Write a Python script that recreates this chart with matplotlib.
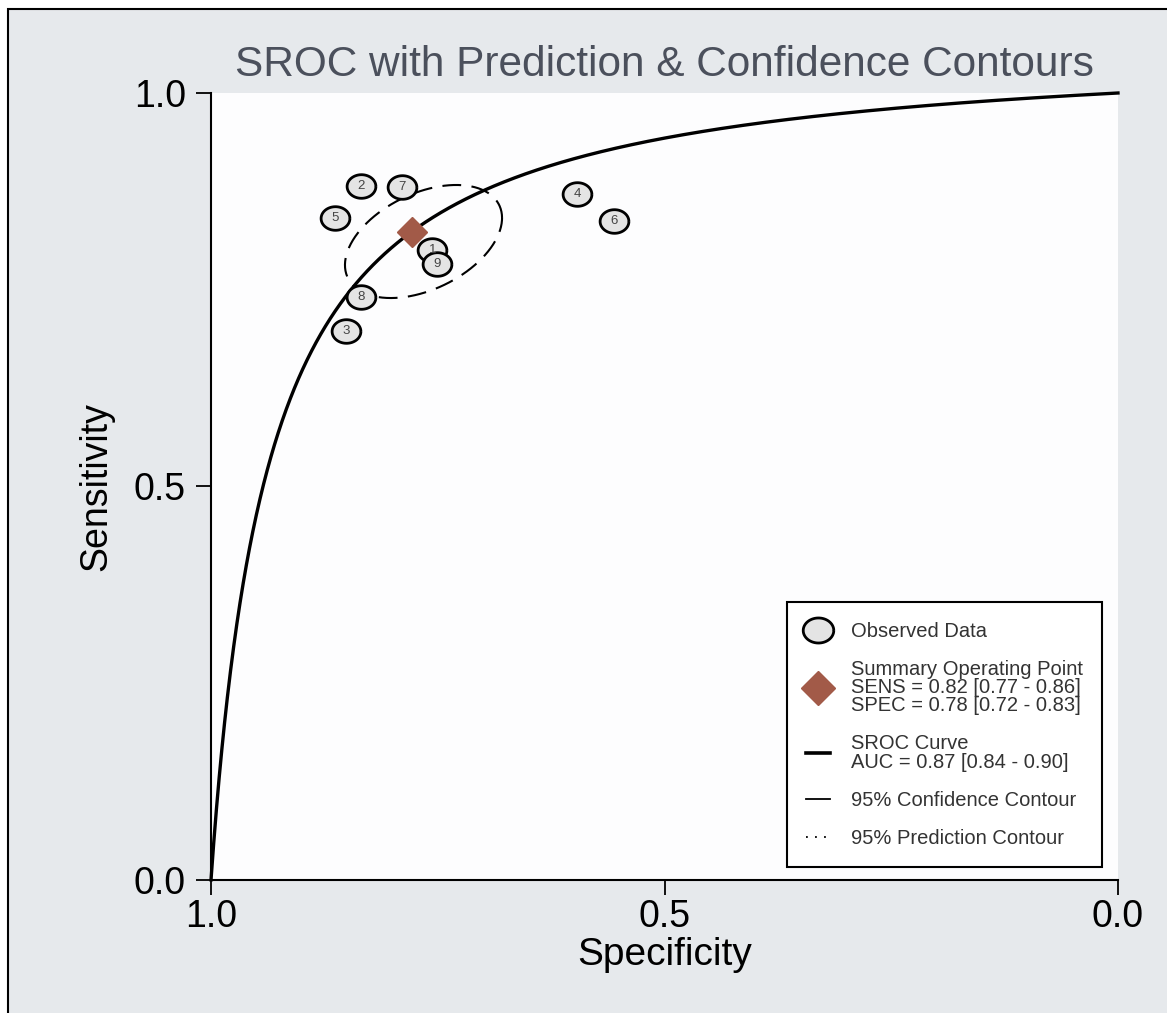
import numpy as np
import matplotlib
matplotlib.use('Agg')
import matplotlib.pyplot as plt
from matplotlib.lines import Line2D
from matplotlib.patches import Rectangle

plt.rcParams['font.family'] = ['Liberation Sans', 'DejaVu Sans']

# observed studies
study_ids = ['1', '2', '3', '4', '5', '6', '7', '8', '9']
spec = [0.756, 0.835, 0.851, 0.596, 0.863, 0.556, 0.789, 0.835, 0.751]
sens = [0.800, 0.882, 0.698, 0.872, 0.841, 0.837, 0.881, 0.741, 0.783]

# summary operating point
sum_spec = 0.778
sum_sens = 0.823

# SROC curve: logit(sens) = alpha + beta * logit(1 - spec)
sroc_alpha = 2.80
sroc_beta = 1.0

# 95% confidence contour (centre and two conjugate half-axes, in spec/sens units)
conf_center = (0.7657, 0.8113)
conf_axis_a = (-0.0866, 0.0299)
conf_axis_b = (0.0, 0.0653)

bg = '#e6e9ec'
fig = plt.figure(figsize=(11.67, 10.13), dpi=100)
fig.patch.set_facecolor('white')
fig.patches.append(Rectangle((8 / 1167, -0.01), 1.0, 1 - 9 / 1013 + 0.01,
                             transform=fig.transFigure, facecolor=bg,
                             edgecolor='black', linewidth=1.5, zorder=-5))

ax = fig.add_axes([211 / 1167, 133 / 1013, 907 / 1167, 787 / 1013])
ax.set_facecolor('#fdfdfe')
ax.set_xlim(1.0, 0.0)
ax.set_ylim(0.0, 1.0)
for s in ['top', 'right']:
    ax.spines[s].set_visible(False)
for s in ['left', 'bottom']:
    ax.spines[s].set_linewidth(1.5)
ax.set_xticks([1.0, 0.5, 0.0])
ax.set_yticks([0.0, 0.5, 1.0])
ax.set_xticklabels(['1.0', '0.5', '0.0'])
ax.set_yticklabels(['0.0', '0.5', '1.0'])
ax.tick_params(direction='out', length=11, width=1.3, labelsize=27)
ax.tick_params(axis='y', pad=7)
ax.tick_params(axis='x', pad=3)
ax.set_xlabel('Specificity', fontsize=28, labelpad=1)
ax.set_ylabel('Sensitivity', fontsize=27, labelpad=14)
fig.text(0.569, 0.936, 'SROC with Prediction & Confidence Contours',
         ha='center', va='center', fontsize=30.5, color='#4b505c')

# SROC curve
fpr = np.linspace(1e-5, 1 - 1e-5, 2000)
lg = sroc_alpha + sroc_beta * np.log(fpr / (1 - fpr))
curve_sens = 1 / (1 + np.exp(-lg))
ax.plot(1 - fpr, curve_sens, color='black', lw=2.4, zorder=3, clip_on=False)

# confidence contour
t = np.linspace(0, 2 * np.pi, 300)
ex = conf_center[0] + conf_axis_a[0] * np.cos(t) + conf_axis_b[0] * np.sin(t)
ey = conf_center[1] + conf_axis_a[1] * np.cos(t) + conf_axis_b[1] * np.sin(t)
ax.plot(ex, ey, color='black', lw=1.5, ls=(0, (9, 5)), zorder=2)

# observed data
th = np.linspace(0, 2 * np.pi, 60)
oval = np.column_stack([1.22 * np.cos(th), np.sin(th)])
ax.scatter(spec, sens, marker=oval, s=430, facecolor='#e4e4e4',
           edgecolor='black', linewidth=2.0, zorder=4)
for sid, x, y in zip(study_ids, spec, sens):
    ax.text(x, y, sid, ha='center', va='center', fontsize=9.5,
            color='#444444', zorder=5)

# summary point
ax.plot(sum_spec, sum_sens, marker='D', markersize=15, color='#a25a48',
        markeredgecolor='#a25a48', zorder=6, ls='none')

handles = [
    Line2D([], [], marker=oval, markersize=22, markerfacecolor='#e4e4e4',
           markeredgecolor='black', markeredgewidth=2.0, ls='none'),
    Line2D([], [], marker='D', markersize=17, color='#a25a48', ls='none'),
    Line2D([], [], color='black', lw=2.6),
    Line2D([], [], color='black', lw=1.3),
    Line2D([], [], color='black', lw=1.3, ls=(0, (1, 4))),
]
labels = [
    'Observed Data',
    'Summary Operating Point\nSENS = 0.82 [0.77 - 0.86]\nSPEC = 0.78 [0.72 - 0.83]',
    'SROC Curve\nAUC = 0.87 [0.84 - 0.90]',
    '95% Confidence Contour',
    '95% Prediction Contour',
]
leg = ax.legend(handles, labels, loc='lower right',
                bbox_to_anchor=(0.982, 0.0165), borderaxespad=0,
                fontsize=14.5, frameon=True, fancybox=False,
                edgecolor='black', framealpha=1, handlelength=1.2,
                handletextpad=1.0, labelspacing=0.95, borderpad=0.95,
                labelcolor='#333333')
leg.get_frame().set_linewidth(1.5)
for txt in leg.get_texts():
    txt.set_linespacing(0.95)

fig.savefig('out.png', dpi=100, facecolor=fig.get_facecolor())
